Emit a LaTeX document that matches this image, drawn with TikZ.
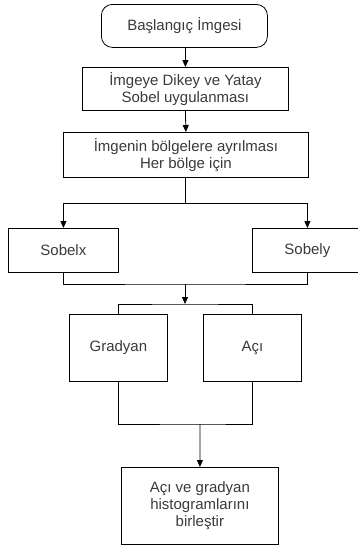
\documentclass[tikz,border=0pt]{standalone}
\usepackage{fontspec}
\setmainfont{Liberation Sans}
\usetikzlibrary{arrows.meta}
\definecolor{txt}{HTML}{3A3A3A}
\begin{document}
\begin{tikzpicture}[x=1pt,y=-1pt,
  box/.style={draw=black,line width=0.8pt,rectangle,anchor=north west,inner sep=0pt,
    text=txt,align=center,font=\fontsize{15}{17}\selectfont},
  startbox/.style={box,rounded corners=11pt},
  conn/.style={draw=black,line width=0.8pt},
  arr/.style={conn,-{Triangle[length=7pt,width=6pt]}}]
\useasboundingbox (0,0) rectangle (357,546);
\node[startbox,minimum width=166pt,minimum height=43pt] (s) at (101,4) {Başlangıç İmgesi};
\node[box,minimum width=206pt,minimum height=43pt] (b2) at (82,67) {İmgeye Dikey ve Yatay\\Sobel uygulanması};
\node[box,minimum width=245pt,minimum height=45pt] (b3) at (63,132) {İmgenin bölgelere ayrılması\\Her bölge için};
\node[box,minimum width=110pt,minimum height=44pt] (sx) at (8,228) {Sobelx};
\node[box,minimum width=110pt,minimum height=44pt] (sy) at (252,228) {Sobely};
\node[box,minimum width=98pt,minimum height=67pt] (gr) at (69,314) {Gradyan};
\node[box,minimum width=98pt,minimum height=67pt] (ac) at (203,314) {Açı};
\node[box,minimum width=157pt,minimum height=77pt] (fin) at (121,467) {Açı ve gradyan\\histogramlarını\\birleştir};
\coordinate (j1) at (185,203);
\coordinate (j2) at (185,284);
\coordinate (j3) at (185,304);
\coordinate (j4) at (200,424);
\draw[arr] (s.south -| b2.north) -- (b2.north);
\draw[arr] (b2.south) -- (b3.north);
\draw[conn] (b3.south -| j1) -- (j1);
\draw[arr] (j1) -| (sx.north);
\draw[arr] (j1) -| (sy.north);
\draw[conn] (sx.south) |- (j2) -| (sy.south);
\draw[arr] (j2) -- (j3);
\draw[conn] (gr.north) |- (j3) -| (ac.north);
\draw[conn] (gr.south) |- (j4) -| (ac.south);
\draw[arr] (j4) -- (fin.north);
\end{tikzpicture}
\end{document}
